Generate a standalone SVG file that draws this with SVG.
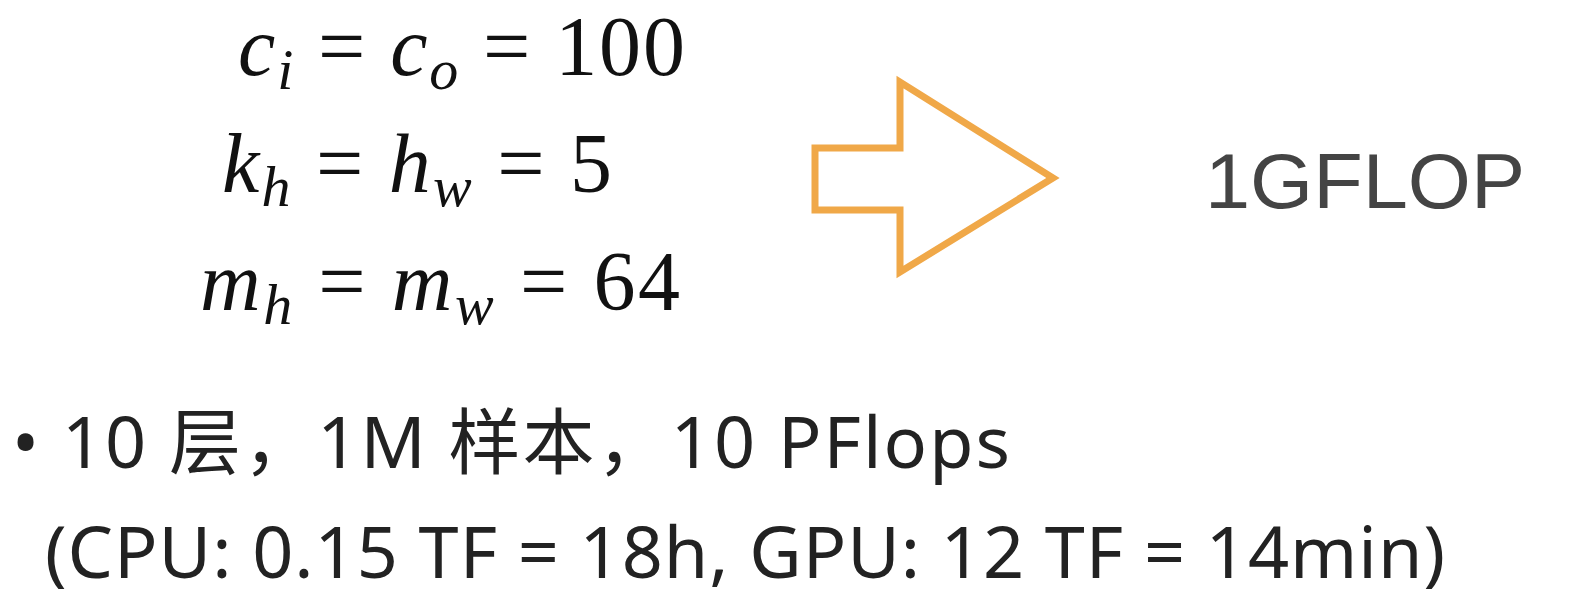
<svg xmlns="http://www.w3.org/2000/svg" width="1576" height="612" viewBox="0 0 1576 612">
<style>
.eq{font-family:"Liberation Serif",serif;font-size:84px;fill:#111}
.i{font-style:italic}
.sub{font-size:58px;font-style:italic}
.cn{font-family:"Noto Sans","Noto Sans CJK SC",sans-serif;font-size:72px;fill:#222}
</style>
<rect width="1576" height="612" fill="#fff"/>
<text class="eq" x="238" y="75" textLength="447" lengthAdjust="spacing"><tspan class="i">c</tspan><tspan class="sub" dy="14">i</tspan><tspan dy="-14"> = </tspan><tspan class="i">c</tspan><tspan class="sub" dy="14">o</tspan><tspan dy="-14"> = 100</tspan></text>
<text class="eq" x="222" y="192" textLength="390" lengthAdjust="spacing"><tspan class="i">k</tspan><tspan class="sub" dy="14">h</tspan><tspan dy="-14"> = </tspan><tspan class="i">h</tspan><tspan class="sub" dy="14">w</tspan><tspan dy="-14"> = 5</tspan></text>
<text class="eq" x="200" y="310" textLength="480" lengthAdjust="spacing"><tspan class="i">m</tspan><tspan class="sub" dy="14">h</tspan><tspan dy="-14"> = </tspan><tspan class="i">m</tspan><tspan class="sub" dy="14">w</tspan><tspan dy="-14"> = 64</tspan></text>
<polygon points="815,148 900,148 900,82 1053,178 900,272 900,210 815,210" fill="none" stroke="#f0a848" stroke-width="7" stroke-linejoin="miter"/>
<text x="1205" y="208" font-family="Liberation Sans,sans-serif" font-size="78" fill="#444" textLength="320" lengthAdjust="spacingAndGlyphs">1GFLOP</text>
<text class="cn" x="12" y="468" textLength="998" lengthAdjust="spacing">• 10 层，1M 样本，10 PFlops</text>
<text class="cn" x="45" y="578" textLength="1400" lengthAdjust="spacing">(CPU: 0.15 TF = 18h, GPU: 12 TF = 14min)</text>
</svg>
